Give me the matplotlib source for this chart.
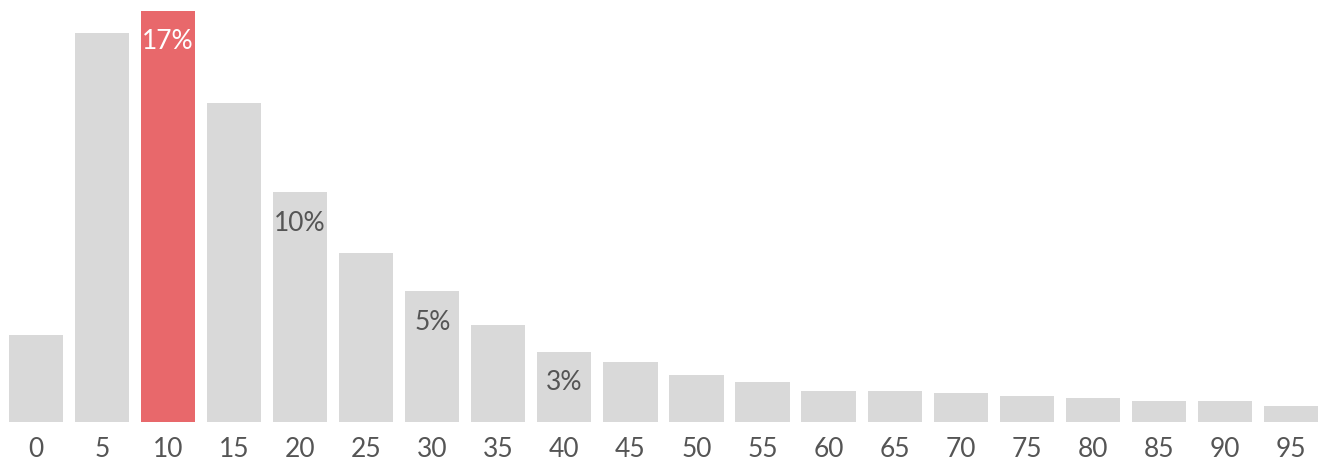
import matplotlib
matplotlib.use('Agg')
import matplotlib.pyplot as plt

# Share of items per bucket (%)
buckets = [0, 5, 10, 15, 20, 25, 30, 35, 40, 45, 50, 55, 60, 65, 70, 75, 80, 85, 90, 95]
share = [3.6, 16.1, 17.0, 13.2, 9.5, 7.0, 5.4, 4.0, 2.9, 2.5,
         1.95, 1.65, 1.3, 1.3, 1.2, 1.07, 1.0, 0.88, 0.88, 0.66]
highlight = 10
labeled = [10, 20, 30, 40]

grey = '#d9d9d9'
red = '#e8686b'

plt.rcParams['font.family'] = ['Lato', 'DejaVu Sans']

fig = plt.figure(figsize=(13.18, 4.64), dpi=100)
ax = fig.add_axes([0, 41 / 464, 1, 423 / 464])

x = list(range(len(buckets)))
colors = [red if b == highlight else grey for b in buckets]
ax.bar(x, share, width=0.82, color=colors, linewidth=0)

# Percent labels just inside the top of selected bars
for i, b in enumerate(buckets):
    if b in labeled:
        txt_color = 'white' if b == highlight else '#555555'
        ax.annotate(f'{share[i]:.0f}%', xy=(i, share[i]), xytext=(0, -21.5),
                    textcoords='offset points', ha='center', va='center',
                    fontsize=19, color=txt_color)

ax.set_xlim(-0.545, 19.41)
ax.set_ylim(0, 17.0 * 423 / 411)
ax.set_xticks(x)
ax.set_xticklabels([str(b) for b in buckets], fontsize=19, color='#555555')
ax.tick_params(axis='x', length=0, pad=10)
ax.set_yticks([])
for s in ax.spines.values():
    s.set_visible(False)

fig.savefig('out.png', dpi=100)
